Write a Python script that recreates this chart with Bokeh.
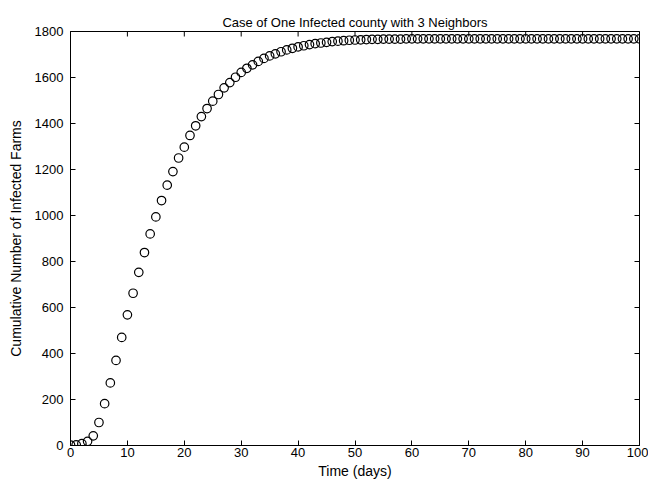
import math
from bokeh.plotting import figure
from bokeh.models import Range1d, FixedTicker
from bokeh.embed import file_html
from bokeh.resources import INLINE

days = list(range(0, 101))
cumulative = [2, 3, 8, 18, 42, 100, 182, 272, 370, 470,
              568, 662, 753, 839, 920, 994, 1065, 1132, 1191, 1250,
              1297, 1348, 1390, 1430, 1465, 1497, 1526, 1555, 1578, 1601,
              1622, 1640, 1655, 1670, 1683, 1694, 1703, 1712, 1720, 1727,
              1733, 1738, 1743, 1747, 1750, 1753, 1756, 1758, 1760, 1762,
              1763, 1764, 1765, 1766, 1766, 1767, 1767, 1767, 1767, 1768,
              1768, 1768, 1768, 1768, 1768, 1768, 1768, 1768, 1768, 1768,
              1768, 1768, 1768, 1768, 1768, 1768, 1768, 1768, 1768, 1768,
              1768, 1768, 1768, 1768, 1768, 1768, 1768, 1768, 1768, 1768,
              1768, 1768, 1768, 1768, 1768, 1768, 1768, 1768, 1768, 1768,
              1768]
x_ticks = [0, 10, 20, 30, 40, 50, 60, 70, 80, 90, 100]
y_ticks = [0, 200, 400, 600, 800, 1000, 1200, 1400, 1600, 1800]
x_max = 100
y_max = 1800

FONT = "Liberation Sans"

p = figure(width=648, height=484, output_backend="svg", toolbar_location=None,
           x_range=Range1d(0, x_max), y_range=Range1d(0, y_max),
           title="Case of One Infected county with 3 Neighbors",
           min_border_left=70, min_border_right=9, min_border_top=31, min_border_bottom=39)
p.title.align = "center"
p.title.vertical_align = "top"
p.title.text_font = FONT
p.title.text_font_style = "normal"
p.title.text_font_size = "13px"
p.title.text_color = "black"
p.title.text_line_height = 1.9
p.title.offset = 0
p.title.standoff = 0

p.grid.visible = False
p.outline_line_color = "black"
p.outline_line_width = 1
p.background_fill_color = "white"
p.border_fill_color = "white"

for ax, ticks in ((p.xaxis[0], x_ticks), (p.yaxis[0], y_ticks)):
    ax.ticker = FixedTicker(ticks=ticks)
    ax.major_tick_in = 5
    ax.major_tick_out = 0
    ax.minor_tick_in = 0
    ax.minor_tick_out = 0
    ax.axis_line_color = "black"
    ax.major_tick_line_color = "black"
    ax.major_label_text_font = FONT
    ax.major_label_text_font_size = "13px"
    ax.major_label_text_color = "black"
    ax.axis_label_text_font = FONT
    ax.axis_label_text_font_size = "14px"
    ax.axis_label_text_font_style = "normal"
    ax.axis_label_text_color = "black"

p.xaxis[0].axis_label = "Time (days)"
p.xaxis[0].major_label_standoff = 2
p.xaxis[0].axis_label_standoff = 3
p.yaxis[0].axis_label = "Cumulative Number of Infected Farms"
p.yaxis[0].major_label_standoff = 7
p.yaxis[0].axis_label_standoff = 8

# inward ticks on the top and right edges of the box (half of each dash is clipped by the frame)
p.scatter(x_ticks, [y_max] * len(x_ticks), marker="dash", angle=math.pi / 2,
          size=10, line_color="black", line_width=1)
p.scatter([x_max] * len(y_ticks), y_ticks, marker="dash", angle=0,
          size=10, line_color="black", line_width=1)

p.scatter(days, cumulative, marker="circle", size=8.5, fill_color=None,
          line_color="black", line_width=1.2)

open("out.html", "w").write(file_html(p, INLINE))
